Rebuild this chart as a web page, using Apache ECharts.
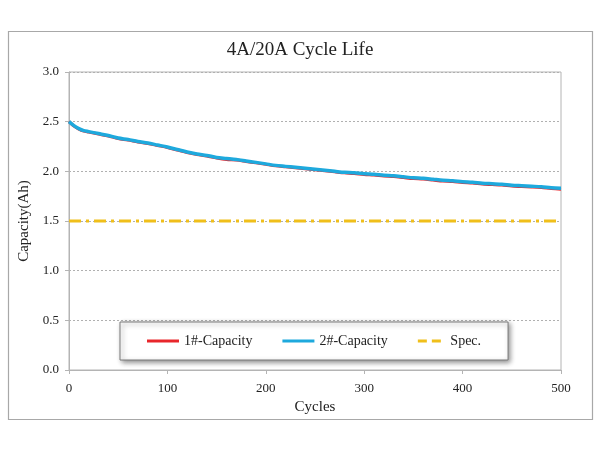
<!DOCTYPE html>
<html><head><meta charset="utf-8">
<script src="https://cdn.jsdelivr.net/npm/echarts@6/dist/echarts.min.js"></script>
<style>html,body{margin:0;padding:0;background:#fff}#c{width:600px;height:450px}</style>
</head><body><div id="c"></div>
<script>
var cycles = [0,5,10,15,20,30,40,50,60,70,80,90,100,110,120,130,140,150,160,170,180,190,200,210,220,230,240,250,260,270,280,290,300,310,320,330,340,350,360,370,380,390,400,410,420,430,440,450,460,470,480,490,500];
var cap2 = [2.50,2.46,2.43,2.41,2.40,2.38,2.36,2.335,2.32,2.30,2.285,2.265,2.245,2.22,2.195,2.175,2.16,2.14,2.13,2.12,2.105,2.09,2.075,2.06,2.05,2.04,2.03,2.02,2.01,2.00,1.99,1.985,1.975,1.97,1.96,1.955,1.945,1.935,1.93,1.92,1.91,1.905,1.895,1.89,1.88,1.875,1.87,1.86,1.855,1.85,1.845,1.835,1.83];
var cap1 = [2.50,2.455,2.425,2.405,2.395,2.375,2.355,2.33,2.315,2.295,2.28,2.26,2.24,2.215,2.19,2.17,2.155,2.135,2.12,2.115,2.10,2.085,2.07,2.055,2.045,2.035,2.025,2.015,2.005,1.995,1.985,1.978,1.968,1.962,1.952,1.947,1.937,1.927,1.922,1.912,1.902,1.897,1.887,1.882,1.872,1.867,1.862,1.852,1.847,1.842,1.836,1.827,1.82];
var specValue = 1.5;
var specCycles = [0, 500];
var seriesNames = ['1#-Capacity','2#-Capacity','Spec.'];
var titleText = '4A/20A Cycle Life';
var xName = 'Cycles', yName = 'Capacity(Ah)';

function pairs(xs, ys){ return xs.map(function(x,i){ return [x, ys[i]]; }); }
var FONT = "'Liberation Serif','Times New Roman',serif";
var SOLID = 'path://M0,0h32v3h-32z';
var DASH = 'path://M0,0h9v3h-9z M15,0h9v3h-9z M31,0h1v3h-1z';
var chart = echarts.init(document.getElementById('c'), null, {renderer:'canvas'});
chart.setOption({
  backgroundColor:'#ffffff',
  animation:false,
  graphic:[{type:'rect', shape:{x:8.5,y:31.5,width:584,height:388}, style:{fill:'none', stroke:'#a8a8a8', lineWidth:1.2}, z:-1}],
  title:{text:titleText, left:'center', top:41, padding:0, textStyle:{fontFamily:FONT, fontSize:19, fontWeight:'normal', color:'#222'}},
  grid:{left:69, right:39, top:72, bottom:80, show:true, borderColor:'#b4b4b4', borderWidth:1, backgroundColor:'transparent'},
  legend:{
    data:[{name:seriesNames[0], icon:SOLID},{name:seriesNames[1], icon:SOLID},{name:seriesNames[2], icon:'path://M0,0h9v3h-9z M14,0h9v3h-9z'}],
    left:120, top:322, width:390,
    padding:[11,27,11,27], itemGap:30, itemWidth:32, itemHeight:3,
    backgroundColor:'#fff', borderColor:'#7a7a7a', borderWidth:1,
    shadowColor:'rgba(0,0,0,0.45)', shadowBlur:5, shadowOffsetX:2, shadowOffsetY:2,
    textStyle:{fontFamily:FONT, fontSize:14, color:'#222', lineHeight:16}
  },
  xAxis:{type:'value', min:0, max:500, interval:100, name:xName, nameLocation:'middle', nameGap:29,
    nameTextStyle:{fontFamily:FONT, fontSize:15, color:'#222'},
    axisLine:{lineStyle:{color:'#b4b4b4'}}, axisTick:{show:true, length:4, lineStyle:{color:'#b4b4b4'}},
    axisLabel:{fontFamily:FONT, fontSize:13, color:'#222', margin:12},
    splitLine:{show:false}},
  yAxis:{type:'value', min:0, max:3, interval:0.5, name:yName, nameLocation:'middle', nameGap:34,
    nameTextStyle:{fontFamily:FONT, fontSize:15, color:'#222'},
    axisLine:{show:true, lineStyle:{color:'#b4b4b4'}}, axisTick:{show:true, length:4, lineStyle:{color:'#b4b4b4'}},
    axisLabel:{fontFamily:FONT, fontSize:13, color:'#222', margin:10, formatter:function(v){return v.toFixed(1);}},
    splitLine:{show:true, lineStyle:{color:'#b0b0b0', type:[2,2], width:1}}},
  series:[
    {name:seriesNames[0], type:'line', data:pairs(cycles,cap1), symbol:'none', smooth:0.3, lineStyle:{color:'#e8262b', width:3}, itemStyle:{color:'#e8262b'}, z:2},
    {name:seriesNames[1], type:'line', data:pairs(cycles,cap2), symbol:'none', smooth:0.3, lineStyle:{color:'#1ea9dd', width:3.5}, itemStyle:{color:'#1ea9dd'}, z:3},
    {name:seriesNames[2], type:'line', data:specCycles.map(function(x){return [x,specValue];}), symbol:'none', lineStyle:{color:'#f0bf1a', width:3, type:[12,5,3,5]}, itemStyle:{color:'#f0bf1a'}, z:2}
  ]
});
</script></body></html>
